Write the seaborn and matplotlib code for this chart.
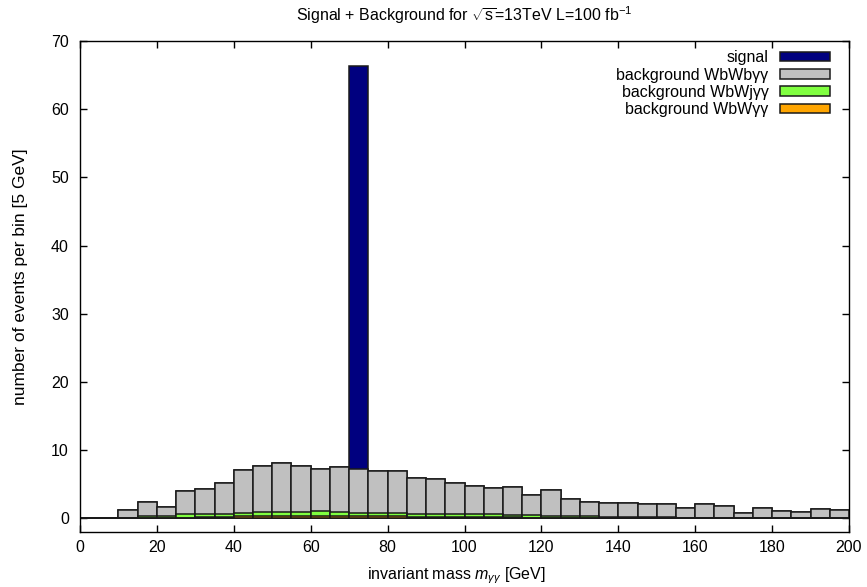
import numpy as np
import pandas as pd
import matplotlib
matplotlib.use("Agg")
import matplotlib.pyplot as plt
from matplotlib.patches import Patch
import seaborn as sns

# ---- data (5 GeV bins from 0 to 200) ----
bin_edges = list(range(0, 205, 5))
signal_bin_left = 70
signal_value = 59.2
bg_wbwbaa = [0.00, 0.00, 1.17, 2.10, 1.27, 3.40, 3.65, 4.55, 6.32, 6.77,
             7.17, 6.72, 6.17, 6.67, 6.35, 6.07, 6.17, 5.23, 5.03, 4.52,
             4.08, 3.90, 4.15, 2.93, 3.70, 2.60, 2.10, 2.00, 2.05, 1.88,
             1.95, 1.40, 1.96, 1.70, 0.75, 1.39, 1.09, 0.85, 1.27, 1.17]
bg_wbwjaa = [0.00, 0.00, 0.05, 0.28, 0.35, 0.50, 0.50, 0.50, 0.48, 0.63,
             0.59, 0.59, 0.64, 0.59, 0.51, 0.53, 0.53, 0.45, 0.49, 0.40,
             0.40, 0.40, 0.30, 0.35, 0.30, 0.25, 0.25, 0.21, 0.16, 0.15,
             0.12, 0.09, 0.09, 0.08, 0.06, 0.06, 0.04, 0.04, 0.04, 0.04]
bg_wbwaa = [0.00, 0.00, 0.00, 0.02, 0.05, 0.10, 0.15, 0.15, 0.30, 0.30,
            0.39, 0.39, 0.39, 0.34, 0.34, 0.30, 0.30, 0.25, 0.20, 0.20,
            0.20, 0.20, 0.15, 0.10, 0.10, 0.05, 0.05, 0.04, 0.04, 0.03,
            0.03, 0.03, 0.03, 0.02, 0.02, 0.02, 0.02, 0.01, 0.01, 0.01]
labels = ["signal", "background WbWb\u03b3\u03b3",
          "background WbWj\u03b3\u03b3", "background WbW\u03b3\u03b3"]
colors = ["#00007f", "#c0c0c0", "#80ff40", "#ffa500"]

edges = np.array(bin_edges, dtype=float)
centers = (edges[:-1] + edges[1:]) / 2
signal = np.where(edges[:-1] == signal_bin_left, signal_value, 0.0)
orange = np.array(bg_wbwaa)
green = np.array(bg_wbwjaa)
grey = np.array(bg_wbwbaa)

# cumulative layers (drawn overlaid, largest first)
layers = [signal + grey + green + orange, grey + green + orange,
          green + orange, orange]

sns.set_theme(style="ticks")
plt.rcParams["font.family"] = ["Liberation Sans", "DejaVu Sans"]
plt.rcParams["mathtext.fontset"] = "custom"
plt.rcParams["mathtext.rm"] = "Liberation Sans"
plt.rcParams["mathtext.it"] = "Liberation Sans:italic"
for k in ["text.color", "axes.labelcolor", "xtick.color", "ytick.color"]:
    plt.rcParams[k] = "black"
fs = 11.5

fig = plt.figure(figsize=(8.67, 5.87), dpi=100)
ax = fig.add_axes([80 / 867, 1 - 532 / 587, (849 - 80) / 867, (532 - 41) / 587])

for vals, col in zip(layers, colors):
    df = pd.DataFrame({"x": centers, "w": vals})
    sns.histplot(data=df, x="x", weights="w", bins=bin_edges, color=col,
                 edgecolor="#1a1a1a", linewidth=1.1, alpha=1.0, ax=ax)

ax.set_xlim(0, 200)
ax.set_ylim(-2, 70)
ax.set_xticks(np.arange(0, 201, 20))
ax.set_yticks(np.arange(0, 71, 10))
ax.tick_params(direction="in", length=5, width=1, top=True, right=True,
               labelsize=fs, color="black")
ax.tick_params(axis="x", pad=6)
ax.tick_params(axis="y", pad=8)
for s in ax.spines.values():
    s.set_linewidth(1.0)
    s.set_color("black")

ax.set_xlabel(r"invariant mass $m_{\gamma\gamma}$ [GeV]", fontsize=fs)
ax.xaxis.set_label_coords(0.489, -0.069)
ax.set_ylabel("number of events per bin [5 GeV]", fontsize=12.5)
ax.yaxis.set_label_coords(-0.078, 0.52)
ax.yaxis.label.set_va("center")
ax.set_title(r"Signal + Background for $\sqrt{\mathrm{s}}$=13TeV L=100 fb$^{-1}$",
             fontsize=fs, pad=14.4)

handles = [Patch(facecolor=c, edgecolor="#1a1a1a", linewidth=1.1) for c in colors]
ax.legend(handles, labels, loc="upper right", bbox_to_anchor=(0.9836, 0.994),
          frameon=False, markerfirst=False, fontsize=fs, handlelength=3.1,
          handleheight=0.54, handletextpad=0.75, labelspacing=0.14,
          borderaxespad=0.0)

fig.savefig("out.png", dpi=100)
